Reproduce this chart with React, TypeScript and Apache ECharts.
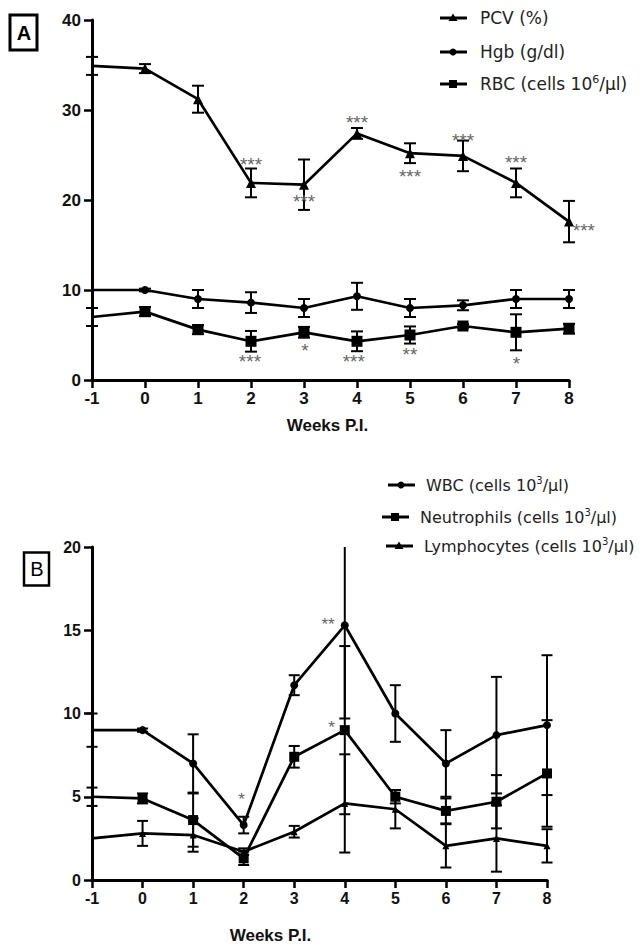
import React, { useEffect, useRef } from "react";
import * as echarts from "echarts";

// ---------- data ----------
const weeks = [-1, 0, 1, 2, 3, 4, 5, 6, 7, 8];

// Panel A
const pcvMean = [34.9, 34.6, 31.2, 21.9, 21.7, 27.4, 25.2, 24.9, 21.9, 17.6];
const pcvErr = [1.0, 0.5, 1.5, 1.6, 2.8, 0.6, 1.1, 1.7, 1.6, 2.3];
const hgbMean = [10.0, 10.0, 9.0, 8.6, 8.0, 9.3, 8.0, 8.3, 9.0, 9.0];
const hgbErr = [0, 0.15, 1.0, 1.15, 1.0, 1.5, 1.0, 0.55, 1.0, 1.0];
const rbcMean = [7.0, 7.6, 5.6, 4.3, 5.3, 4.3, 5.0, 6.0, 5.3, 5.7];
const rbcErr = [1.0, 0.5, 0.5, 1.15, 0.6, 1.1, 0.95, 0.2, 2.0, 0.55];

// Panel B
const wbcMean = [9.0, 9.0, 7.0, 3.3, 11.7, 15.3, 10.0, 7.0, 8.7, 9.3];
const wbcErr = [1.0, 0.1, 1.75, 0.5, 0.6, 5.6, 1.7, 2.0, 3.5, 4.2];
const neutMean = [5.0, 4.9, 3.6, 1.3, 7.4, 9.0, 5.0, 4.15, 4.7, 6.4];
const neutErr = [0.55, 0.3, 1.6, 0.4, 0.65, 5.05, 0.4, 0.75, 1.6, 3.2];
const lymphMean = [2.5, 2.8, 2.7, 1.7, 2.9, 4.6, 4.25, 2.05, 2.5, 2.05];
const lymphErr = [0, 0.75, 1.0, 0.2, 0.35, 2.95, 1.15, 1.3, 2.0, 1.0];

// significance marks: [week, value level, mark]
const starsA: [number, number, string][] = [
  [2, 24.4, "***"], [3, 20.3, "***"], [4, 29.1, "***"], [5, 23.1, "***"],
  [6, 27.1, "***"], [7, 24.6, "***"], [8.28, 17.1, "***"],
  [1.98, 2.56, "***"], [3.02, 3.7, "*"], [3.94, 2.56, "***"], [5.0, 3.26, "**"], [7.01, 2.3, "*"],
];
const starsB: [number, number, string][] = [
  [1.96, 5.03, "*"], [3.67, 15.6, "**"], [3.74, 9.36, "*"],
];

const yTicksA = { min: 0, max: 40, interval: 10 };
const yTicksB = { min: 0, max: 20, interval: 5 };

// legend labels: [main text, superscript, tail]
const legendA: [string, string, string][] = [
  ["PCV (%)", "", ""],
  ["Hgb (g/dl)", "", ""],
  ["RBC (cells 10", "6", "/\u00b5l)"],
];
const legendB: [string, string, string][] = [
  ["WBC (cells 10", "3", "/\u00b5l)"],
  ["Neutrophils (cells 10", "3", "/\u00b5l)"],
  ["Lymphocytes (cells 10", "3", "/\u00b5l)"],
];

const FONT = "Arial, 'Liberation Sans', Helvetica, sans-serif";
const LEGEND_FONT = "'DejaVu Sans', Arial, sans-serif";

export default function App() {
  const ref = useRef<HTMLDivElement>(null);

  useEffect(() => {
    const chart = echarts.init(ref.current!, null, { renderer: "svg" });

    const lineSeries = (name: string, mean: number[], symbol: string, size: number, gi: number) => ({
      name,
      type: "line",
      xAxisIndex: gi,
      yAxisIndex: gi,
      data: weeks.map((w, i) =>
        i === 0 ? { value: [w, mean[i]], symbol: "none" } : [w, mean[i]]
      ),
      symbol,
      symbolSize: size,
      showSymbol: true,
      lineStyle: { color: "#000", width: 2.7 },
      itemStyle: { color: "#000", borderWidth: 0 },
      z: 3,
    });

    const errSeries = (mean: number[], err: number[], gi: number, yMax: number, capHalf: number) => ({
      type: "custom",
      xAxisIndex: gi,
      yAxisIndex: gi,
      z: 2,
      data: weeks
        .map((w, i) => [w, mean[i] - err[i], mean[i] + err[i], err[i]])
        .filter((d) => d[3] > 0),
      renderItem: (params: any, api: any) => {
        const x = api.value(0);
        const lo = api.value(1);
        const hi = api.value(2);
        const pT = api.coord([x, Math.min(hi, yMax)]);
        const pB = api.coord([x, Math.max(lo, 0)]);
        const st = { stroke: "#000", lineWidth: 2 };
        const children: any[] = [
          { type: "line", shape: { x1: pT[0], y1: pT[1], x2: pB[0], y2: pB[1] }, style: st },
          { type: "line", shape: { x1: pB[0] - capHalf, y1: pB[1], x2: pB[0] + capHalf, y2: pB[1] }, style: st },
        ];
        if (hi <= yMax) {
          children.push({ type: "line", shape: { x1: pT[0] - capHalf, y1: pT[1], x2: pT[0] + capHalf, y2: pT[1] }, style: st });
        }
        return { type: "group", children };
      },
    });

    const starSeries = (stars: [number, number, string][], gi: number, fontSize: number) => ({
      type: "custom",
      xAxisIndex: gi,
      yAxisIndex: gi,
      z: 4,
      data: stars.map((s) => [s[0], s[1], s[2]]),
      renderItem: (params: any, api: any) => {
        const p = api.coord([api.value(0), api.value(1)]);
        const txt = stars[params.dataIndex][2];
        return {
          type: "text",
          x: p[0],
          y: p[1] + fontSize * 0.22,
          style: {
            text: txt,
            fill: "#666",
            font: `${fontSize}px ${FONT}`,
            textAlign: "center",
            textVerticalAlign: "middle",
          },
        };
      },
    });

    const xAxisCfg = (gi: number, fontSize: number, nameGap: number, namePad: number[]) => ({
      type: "value",
      gridIndex: gi,
      min: -1,
      max: 8,
      interval: 1,
      axisLine: { show: true, onZero: false, lineStyle: { color: "#000", width: 3 } },
      axisTick: { show: true, length: 8, lineStyle: { color: "#000", width: 2.5 } },
      axisLabel: { color: "#111", fontWeight: "bold", fontSize, fontFamily: FONT, margin: 10 },
      splitLine: { show: false },
      name: "Weeks P.I.",
      nameLocation: "middle",
      nameGap,
      nameTextStyle: { color: "#111", fontWeight: "bold", fontSize: 17, fontFamily: FONT, padding: namePad },
    });

    const yAxisCfg = (gi: number, t: { min: number; max: number; interval: number }, fontSize: number) => ({
      type: "value",
      gridIndex: gi,
      min: t.min,
      max: t.max,
      interval: t.interval,
      axisLine: { show: true, onZero: false, lineStyle: { color: "#000", width: 3 } },
      axisTick: { show: true, length: 8, lineStyle: { color: "#000", width: 2.5 } },
      axisLabel: { color: "#111", fontWeight: "bold", fontSize, fontFamily: FONT, margin: 11 },
      splitLine: { show: false },
    });

    const legendItem = (label: [string, string, string], shape: string, lx: number, y: number, fontSize: number, textGap: number) => {
      const cx = lx + 13;
      let marker: any;
      if (shape === "triangle") {
        marker = { type: "polygon", shape: { points: [[cx, y - 4.5], [cx - 4.5, y + 3], [cx + 4.5, y + 3]] }, style: { fill: "#000" } };
      } else if (shape === "circle") {
        marker = { type: "circle", shape: { cx, cy: y, r: 3.5 }, style: { fill: "#000" } };
      } else {
        marker = { type: "rect", shape: { x: cx - 4, y: y - 4, width: 8, height: 8 }, style: { fill: "#000" } };
      }
      const [main, sup, tail] = label;
      const richText = sup ? `{n|${main}}{s|${sup}}{n|${tail}}` : `{n|${main}}`;
      return [
        { type: "line", shape: { x1: lx, y1: y, x2: lx + 27, y2: y }, style: { stroke: "#000", lineWidth: 3 } },
        marker,
        {
          type: "text",
          x: lx + textGap,
          y,
          style: {
            text: richText,
            fill: "#222",
            font: `${fontSize}px ${LEGEND_FONT}`,
            textVerticalAlign: "middle",
            rich: {
              n: { fontSize, fontFamily: LEGEND_FONT, fill: "#222", lineHeight: fontSize + 4 },
              s: { fontSize: Math.round(fontSize * 0.62), fontFamily: LEGEND_FONT, fill: "#222", verticalAlign: "top", lineHeight: fontSize + 4 },
            },
          },
        },
      ];
    };

    const option: any = {
      animation: false,
      backgroundColor: "#fff",
      grid: [
        { left: 92, right: 75, top: 20, bottom: 565, containLabel: false },
        { left: 92, right: 97, top: 547, bottom: 55, containLabel: false },
      ],
      xAxis: [xAxisCfg(0, 17, 37, [0, 6, 0, 0]), xAxisCfg(1, 16, 47, [0, 98, 0, 0])],
      yAxis: [yAxisCfg(0, yTicksA, 17), yAxisCfg(1, yTicksB, 16)],
      series: [
        errSeries(pcvMean, pcvErr, 0, 40, 6),
        errSeries(hgbMean, hgbErr, 0, 40, 6),
        errSeries(rbcMean, rbcErr, 0, 40, 6),
        lineSeries(legendA[0].join(""), pcvMean, "triangle", 10, 0),
        lineSeries(legendA[1].join(""), hgbMean, "circle", 8, 0),
        lineSeries(legendA[2].join(""), rbcMean, "rect", 11, 0),
        starSeries(starsA, 0, 19),
        errSeries(wbcMean, wbcErr, 1, 20, 5.5),
        errSeries(neutMean, neutErr, 1, 20, 5.5),
        errSeries(lymphMean, lymphErr, 1, 20, 5.5),
        lineSeries(legendB[0].join(""), wbcMean, "circle", 8, 1),
        lineSeries(legendB[1].join(""), neutMean, "rect", 10, 1),
        lineSeries(legendB[2].join(""), lymphMean, "triangle", 7, 1),
        starSeries(starsB, 1, 17),
      ],
      graphic: [
        { type: "rect", shape: { x: 10, y: 15, width: 27, height: 35 }, style: { fill: "none", stroke: "#000", lineWidth: 3 } },
        { type: "text", x: 24, y: 33, style: { text: "A", font: `bold 20px ${FONT}`, fill: "#000", textAlign: "center", textVerticalAlign: "middle" } },
        { type: "rect", shape: { x: 24, y: 552.5, width: 25, height: 33 }, style: { fill: "none", stroke: "#000", lineWidth: 2.5 } },
        { type: "text", x: 37, y: 569, style: { text: "B", font: `20px ${FONT}`, fill: "#000", textAlign: "center", textVerticalAlign: "middle" } },
        ...legendItem(legendA[0], "triangle", 440, 18, 17, 40),
        ...legendItem(legendA[1], "circle", 440, 52, 17, 40),
        ...legendItem(legendA[2], "rect", 440, 84, 17, 40),
        ...legendItem(legendB[0], "circle", 388, 485, 16, 38),
        ...legendItem(legendB[1], "rect", 382, 517, 16, 38),
        ...legendItem(legendB[2], "triangle", 386, 546, 16, 38),
      ],
    };

    chart.setOption(option);
    return () => chart.dispose();
  }, []);

  return (
    <div
      ref={ref}
      style={{ position: "absolute", left: 0, top: 0, width: 644, height: 945, background: "#fff" }}
    />
  );
}
